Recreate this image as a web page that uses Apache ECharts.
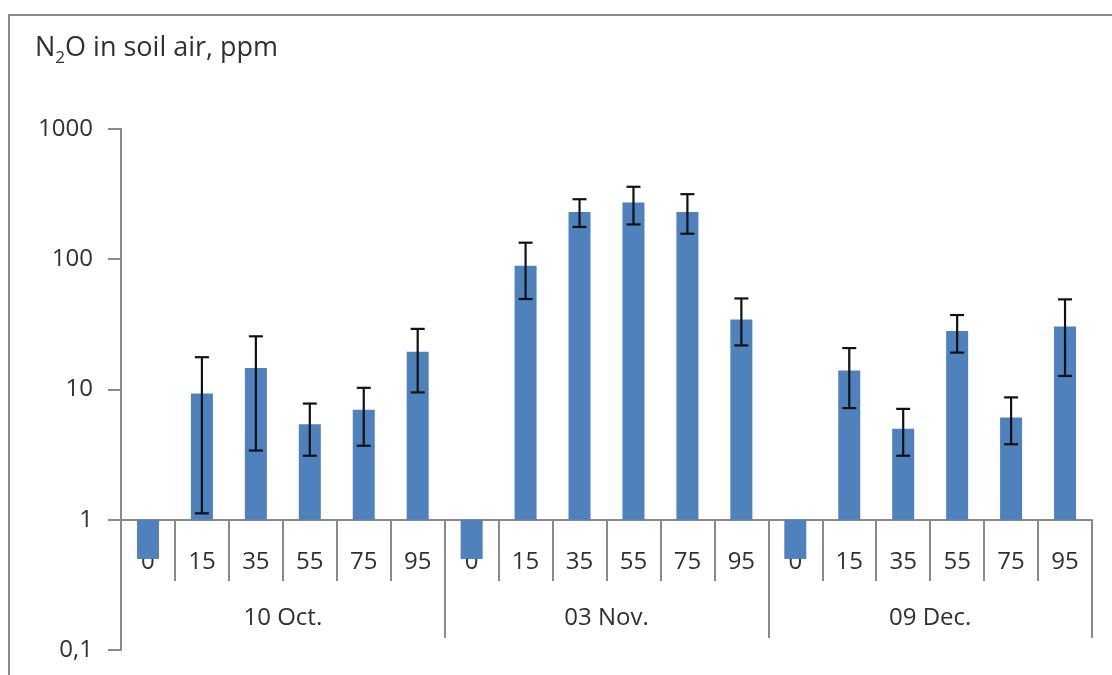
<!DOCTYPE html>
<html>
<head>
<meta charset="utf-8">
<script src="https://cdn.jsdelivr.net/npm/echarts@6/dist/echarts.min.js"></script>
<style>
  html, body { margin: 0; padding: 0; background: #fff; }
  #chart { width: 1112px; height: 675px; }
</style>
</head>
<body>
<div id="chart"></div>
<script>
// Sampling depths (cm) and sampling dates
const depths = ['0', '15', '35', '55', '75', '95'];
const dates = ['10 Oct.', '03 Nov.', '09 Dec.'];

// Mean N2O concentration in soil air, ppm (one array per date)
const meanOct = [0.5, 9.3, 14.6, 5.4, 7.0, 19.5];
const meanNov = [0.5, 89, 231, 273, 231, 34.5];
const meanDec = [0.5, 14.0, 5.0, 28.1, 6.1, 30.5];

// Upper and lower ends of the error bars, ppm
const upperOct = [null, 17.7, 25.6, 7.8, 10.3, 29.2];
const upperNov = [null, 134, 289, 360, 316, 50];
const upperDec = [null, 20.8, 7.1, 37.3, 8.7, 49.2];
const lowerOct = [null, 1.12, 3.4, 3.1, 3.7, 9.5];
const lowerNov = [null, 49.5, 177, 185, 157, 21.8];
const lowerDec = [null, 7.2, 3.1, 19.2, 3.8, 12.7];

const yTicks = [0.1, 1, 10, 100, 1000];

const categories = [].concat(depths, depths, depths);
const means = [].concat(meanOct, meanNov, meanDec);
const uppers = [].concat(upperOct, upperNov, upperDec);
const lowers = [].concat(lowerOct, lowerNov, lowerDec);

const errorData = [];
means.forEach(function (m, i) {
  if (uppers[i] != null && lowers[i] != null) errorData.push([i, lowers[i], uppers[i]]);
});

const FONT = 'Open Sans';
const TEXT = '#303030';
const LINE = '#8a8a8a';
const LABEL_SIZE = 24;

const chart = echarts.init(document.getElementById('chart'));
chart.setOption({
  animation: false,
  backgroundColor: '#fff',
  textStyle: { fontFamily: FONT },
  graphic: [{
    type: 'rect',
    shape: { x: 9, y: 15, width: 1200, height: 700 },
    style: { fill: 'none', stroke: LINE, lineWidth: 2 },
    silent: true
  }],
  title: {
    text: '{a|N}{s|2}{a|O in soil air, ppm}',
    left: 30,
    top: 30,
    textStyle: {
      fontWeight: 'normal',
      rich: {
        a: { fontFamily: FONT, fontSize: 27, fontWeight: 'normal', color: TEXT, verticalAlign: 'bottom' },
        s: { fontFamily: FONT, fontSize: 17, fontWeight: 'normal', color: TEXT, verticalAlign: 'bottom', padding: [0, 0, -5, 0] }
      }
    }
  },
  grid: { left: 121, right: 20, top: 129, bottom: 25, containLabel: false },
  xAxis: [{
    type: 'category',
    data: categories,
    position: 'bottom',
    offset: -130,
    boundaryGap: true,
    axisLine: { onZero: false, lineStyle: { color: LINE, width: 2 } },
    axisTick: { show: true, interval: 0, length: 61, lineStyle: { color: LINE, width: 2 } },
    axisLabel: { interval: 0, margin: 30, color: TEXT, fontSize: LABEL_SIZE, fontFamily: FONT },
    splitLine: { show: false }
  }, {
    type: 'category',
    data: dates,
    position: 'bottom',
    offset: -130,
    boundaryGap: true,
    axisLine: { show: false, onZero: false },
    axisTick: { show: true, interval: 0, length: 118, lineStyle: { color: LINE, width: 2 } },
    axisLabel: { interval: 0, margin: 86, color: TEXT, fontSize: LABEL_SIZE, fontFamily: FONT },
    splitLine: { show: false }
  }],
  yAxis: {
    type: 'log',
    logBase: 10,
    min: yTicks[0],
    max: yTicks[yTicks.length - 1],
    axisLine: { show: true, lineStyle: { color: LINE, width: 2 } },
    axisTick: { show: true, length: 13, lineStyle: { color: LINE, width: 2 } },
    axisLabel: {
      margin: 28,
      color: TEXT,
      fontSize: LABEL_SIZE,
      fontFamily: FONT,
      formatter: function (v) { return String(v).replace('.', ','); }
    },
    splitLine: { show: false }
  },
  series: [{
    type: 'bar',
    xAxisIndex: 0,
    yAxisIndex: 0,
    data: means,
    barWidth: 22,
    itemStyle: { color: '#4f81bd' },
    z: 3
  }, {
    type: 'custom',
    xAxisIndex: 0,
    yAxisIndex: 0,
    data: errorData,
    encode: { x: 0, y: [1, 2] },
    z: 4,
    renderItem: function (params, api) {
      const i = api.value(0);
      const lo = api.coord([i, api.value(1)]);
      const hi = api.coord([i, api.value(2)]);
      const cap = 7;
      const style = { stroke: '#111', lineWidth: 2.2 };
      return {
        type: 'group',
        children: [
          { type: 'line', shape: { x1: hi[0], y1: hi[1], x2: lo[0], y2: lo[1] }, style: style },
          { type: 'line', shape: { x1: hi[0] - cap, y1: hi[1], x2: hi[0] + cap, y2: hi[1] }, style: style },
          { type: 'line', shape: { x1: lo[0] - cap, y1: lo[1], x2: lo[0] + cap, y2: lo[1] }, style: style }
        ]
      };
    }
  }]
});
</script>
</body>
</html>
